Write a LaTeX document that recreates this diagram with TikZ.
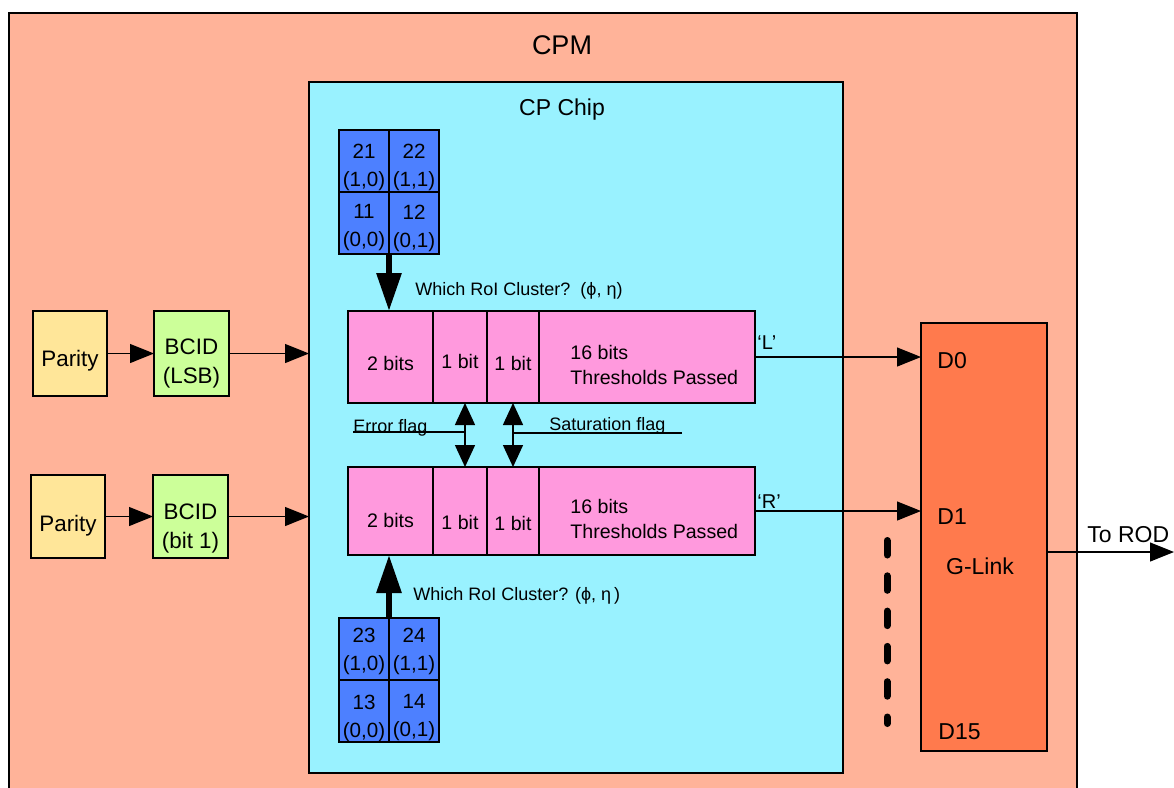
\documentclass[tikz,border=0pt]{standalone}
\usepackage{fontspec}
\setmainfont{Liberation Sans}
\usetikzlibrary{positioning}
\usetikzlibrary{arrows.meta}
\definecolor{cpmred}{RGB}{255,179,153}
\definecolor{chipcyan}{RGB}{153,242,255}
\definecolor{roiblue}{RGB}{77,128,255}
\definecolor{regpink}{RGB}{255,153,221}
\definecolor{paryellow}{RGB}{255,230,153}
\definecolor{bcidgreen}{RGB}{204,255,153}
\definecolor{glinkred}{RGB}{255,122,77}
\tikzset{%
  box/.style = {rectangle,draw,line width=0.75pt,outer sep=0pt,inner sep=0pt},
  cell/.style = {box,fill=roiblue,minimum width=25pt,minimum height=31pt},
  celltxt/.style = {inner sep=0pt,align=center,font=\fontsize{10.3}{14}\selectfont},
  fld/.style = {box,fill=regpink,minimum height=46pt},
  fldtxt/.style = {inner sep=0pt,align=left,font=\fontsize{9.8}{12.5}\selectfont},
  par/.style = {box,fill=paryellow,minimum width=37pt,minimum height=42.5pt},
  bc/.style = {box,fill=bcidgreen,minimum width=37.5pt,minimum height=42.5pt},
  boxtxt/.style = {inner sep=0pt,align=center,font=\fontsize{11.2}{14.5}\selectfont},
  lbl/.style = {inner sep=0pt,font=\fontsize{9}{11}\selectfont},
  big/.style = {inner sep=0pt,font=\fontsize{11.5}{14}\selectfont},
  sigarrow/.style = {line width=0.6pt,-{Triangle[length=12pt,width=9.5pt]}},
  bigarrow/.style = {line width=3pt,-{Triangle[length=19pt,width=12pt]}},
  dblarrow/.style = {line width=0.75pt,
        {Triangle[length=11pt,width=10pt]}-{Triangle[length=11pt,width=10pt]}},
  dotline/.style = {line width=3.5pt,line cap=round,
        dash pattern=on 7.25pt off 10.4pt}
}
\begin{document}
\begin{tikzpicture}[x=0.5pt,y=-0.5pt]
    \useasboundingbox (0,0) rectangle (1174,788);
    % CPM
    \fill[cpmred] (9,13) rectangle (1077,788);
    \draw[line width=1pt] (9,788) -- (9,13) -- (1077,13) -- (1077,788);
    \node[font=\fontsize{13.5}{16}\selectfont] (cpm) at (562,45) {CPM};
    % CP chip
    \node[box,fill=chipcyan,minimum width=267pt,minimum height=345.5pt] (chip) at (576,427.5) {};
    \node[font=\fontsize{11.5}{14}\selectfont] (chiptitle) at (562,110) {CP Chip};
    % RoI clusters
    \node[cell] (c21) at (364,161) {};
    \node[cell,right=0pt of c21] (c22) {};
    \node[cell,below=0pt of c21] (c11) {};
    \node[cell,right=0pt of c11] (c12) {};
    \node[cell] (c23) at (364,649) {};
    \node[cell,right=0pt of c23] (c24) {};
    \node[cell,below=0pt of c23] (c13) {};
    \node[cell,right=0pt of c13] (c14) {};
    \node[celltxt] (t21) at ([yshift=-3pt]c21) {21\\(1,0)};
    \node[celltxt] (t22) at ([yshift=-3pt]c22) {22\\(1,1)};
    \node[celltxt] (t11) at ([yshift=-2.5pt]c11) {11\\(0,0)};
    \node[celltxt] (t12) at ([yshift=-2.5pt]c12) {12\\(0,1)};
    \node[celltxt] (t23) at ([yshift=-1pt]c23) {23\\(1,0)};
    \node[celltxt] (t24) at ([yshift=-1pt]c24) {24\\(1,1)};
    \node[celltxt] (t13) at ([yshift=-3.5pt]c13) {13\\(0,0)};
    \node[celltxt] (t14) at ([yshift=-3.5pt]c14) {14\\(0,1)};
    % registers
    \node[fld,minimum width=42.5pt] (fA2) at (390.5,357) {};
    \node[fld,minimum width=27pt,right=0pt of fA2] (eA) {};
    \node[fld,minimum width=26pt,right=0pt of eA] (sA) {};
    \node[fld,minimum width=108pt,right=0pt of sA] (tA) {};
    \node[fld,minimum height=44pt,minimum width=42.5pt] (fB2) at (390.5,511) {};
    \node[fld,minimum height=44pt,minimum width=27pt,right=0pt of fB2] (eB) {};
    \node[fld,minimum height=44pt,minimum width=26pt,right=0pt of eB] (sB) {};
    \node[fld,minimum height=44pt,minimum width=108pt,right=0pt of sB] (tB) {};
    \node[fldtxt] (fA2t) at ([yshift=-3pt]fA2) {2 bits};
    \node[fldtxt] (eAt) at ([yshift=-2pt]eA) {1 bit};
    \node[fldtxt] (sAt) at ([yshift=-3pt]sA) {1 bit};
    \node[fldtxt,anchor=west] (tAt) at ([xshift=15.5pt,yshift=-3.75pt]tA.west) {16 bits\\Thresholds Passed};
    \node[fldtxt] (fB2t) at ([yshift=-4.5pt]fB2) {2 bits};
    \node[fldtxt] (eBt) at ([yshift=-5.5pt]eB) {1 bit};
    \node[fldtxt] (sBt) at ([yshift=-6pt]sB) {1 bit};
    \node[fldtxt,anchor=west] (tBt) at ([xshift=15.5pt,yshift=-3.75pt]tB.west) {16 bits\\Thresholds Passed};
    \node[lbl,anchor=base west] (whichA) at (415,295) {Which RoI Cluster?\ \ (ϕ, η)};
    \node[lbl,anchor=base west] (whichB) at (413,600) {Which RoI Cluster? (ϕ, η\,)};
    \draw[bigarrow] (c11.south east) -- (c11.south east |- fA2.north);
    \draw[bigarrow] (c23.north east) -- (c23.north east |- fB2.south);
    % flags
    \node[lbl,anchor=base west] (err) at (353,432) {Error flag};
    \node[lbl,anchor=base west] (sat) at (549,430) {Saturation flag};
    \coordinate (eflag) at ([xshift=2.5pt]eA.south);
    \coordinate (satend) at (682,433);
    \draw[dblarrow] (eflag) -- (eflag |- eB.north);
    \draw[dblarrow] (sA.south) -- (sB.north);
    \draw[line width=0.6pt] (err.base west) -- (err.base west -| eflag);
    \draw[line width=0.6pt] (satend) -- (satend -| sA.south);
    % parity and BCID
    \node[par] (parA) at (70,353.5) {};
    \node[bc,right=23.5pt of parA] (bcidA) {};
    \node[par,minimum height=41.5pt] (parB) at (68,516.5) {};
    \node[bc,minimum height=41.5pt,right=24pt of parB] (bcidB) {};
    \node[boxtxt] (parAt) at ([yshift=-3.75pt]parA) {Parity};
    \node[boxtxt] (bcidAt) at ([yshift=-4.75pt]bcidA) {BCID\\(LSB)};
    \node[boxtxt] (parBt) at ([yshift=-4.75pt]parB) {Parity};
    \node[boxtxt] (bcidBt) at ([yshift=-6pt]bcidB) {BCID\\(bit 1)};
    \draw[sigarrow] (parA) -- (bcidA);
    \draw[sigarrow] (parB) -- (bcidB);
    \draw[sigarrow] (bcidA.east) -- (bcidA.east -| chip.west);
    \draw[sigarrow] (bcidB.east) -- (bcidB.east -| chip.west);
    % G-Link
    \node[box,fill=glinkred,minimum width=63pt,minimum height=214pt] (glink) at (984,537) {};
    \node[big,anchor=base west] (d0) at (937,368) {D0};
    \node[big,anchor=base west] (d1) at (937,524) {D1};
    \node[big,anchor=base west] (d15) at (938,739) {D15};
    \node[big] (gtxt) at (980,566) {G-Link};
    \node[lbl,font=\fontsize{10}{12}\selectfont,anchor=base west] (lq) at (757,349) {`L'};
    \node[lbl,font=\fontsize{10}{12}\selectfont,anchor=base west] (rq) at (757,508) {`R'};
    \draw[sigarrow] (tA.east) -- (tA.east -| glink.west);
    \draw[sigarrow] (tB.east) -- (tB.east -| glink.west);
    \coordinate (dtop) at (887,540.5);
    \coordinate (dbot) at (887,723.5);
    \draw[dotline] (dtop) -- (dbot);
    \coordinate (rod) at (1174,552);
    \draw[sigarrow] (glink.east |- rod) -- (rod);
    \node[big,anchor=base west] (rodtxt) at (1087,542) {To ROD};
\end{tikzpicture}
\end{document}
